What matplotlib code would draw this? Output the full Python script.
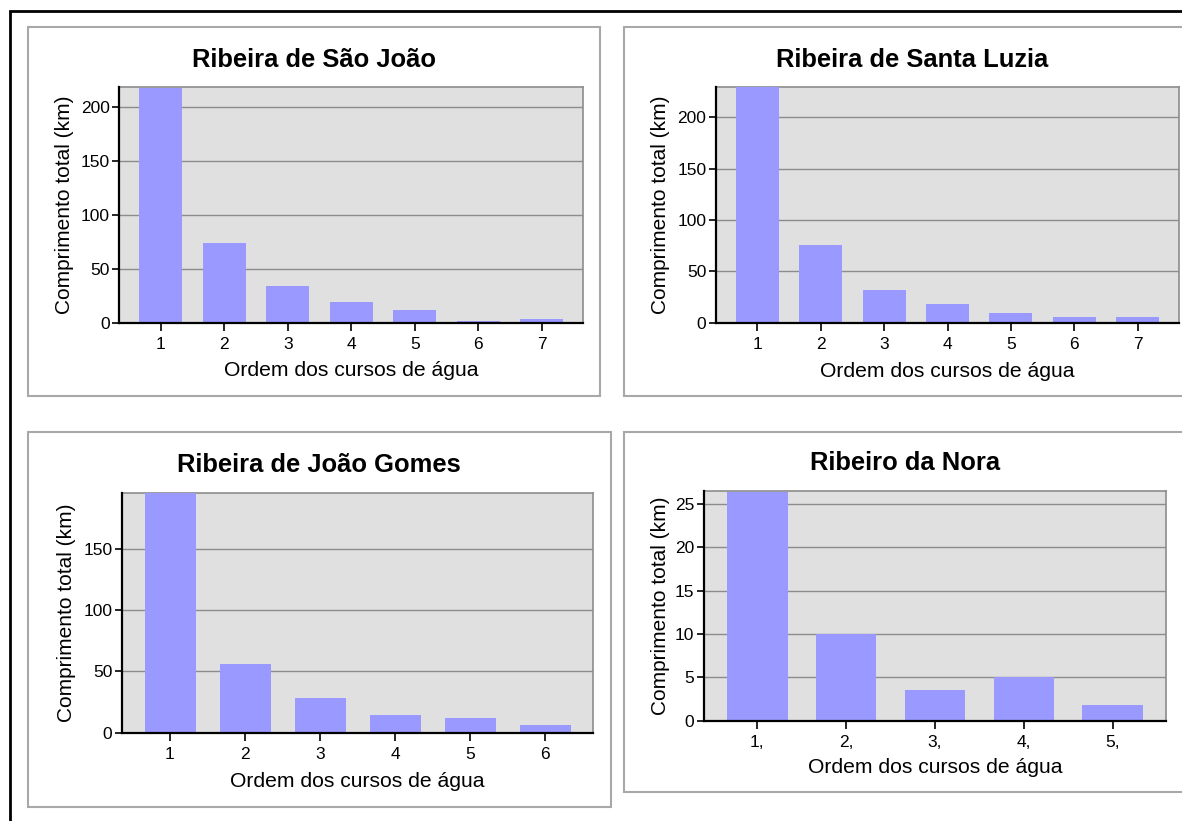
import matplotlib
matplotlib.use("Agg")
import matplotlib.pyplot as plt
from matplotlib.patches import Rectangle

plt.rcParams['font.family'] = ['Liberation Sans', 'DejaVu Sans']

# ---- data ----
titles = ["Ribeira de São João", "Ribeira de Santa Luzia",
          "Ribeira de João Gomes", "Ribeiro da Nora"]
cats_sj = ["1", "2", "3", "4", "5", "6", "7"]
vals_sj = [218, 74, 34, 19, 12, 1.5, 3.5]
cats_sl = ["1", "2", "3", "4", "5", "6", "7"]
vals_sl = [229, 76, 32, 18, 9, 6, 6]
cats_jg = ["1", "2", "3", "4", "5", "6"]
vals_jg = [195, 56, 28.5, 14.6, 12, 6.5]
cats_nr = ["1,", "2,", "3,", "4,", "5,"]
vals_nr = [26.4, 10, 3.5, 5, 1.8]
ymax = [218.5, 229, 195.5, 26.5]
yticks_sets = [[0, 50, 100, 150, 200], [0, 50, 100, 150, 200],
               [0, 50, 100, 150], [0, 5, 10, 15, 20, 25]]
xlabel = "Ordem dos cursos de água"
ylabel = "Comprimento total (km)"

W, H = 1182, 821
fig = plt.figure(figsize=(W / 100, H / 100), dpi=100)


def fx(x):
    return x / W


def fy(y):
    return 1 - y / H


# outer black frame
fig.patches.append(Rectangle((fx(10), fy(900)), fx(1300), fy(11) - fy(900),
                             transform=fig.transFigure, fill=False,
                             edgecolor='black', linewidth=2, zorder=0))

# panel boxes (x0, y0, x1, y1) in pixels
boxes = [(27.5, 27.5, 600, 396), (624, 27.5, 1200, 396.5),
         (27.5, 432.5, 611, 807), (624, 432.5, 1186, 792)]
# plot areas
plots = [(119.5, 87.3, 583, 322.7), (716, 87.3, 1179, 322.7),
         (122, 492.7, 593, 732.7), (704, 490.7, 1166, 720.7)]
title_y = [60, 60, 465, 463]
xlab_y = [370, 371, 781.5, 767]
ylab_x = [65, 661, 67, 660.5]
pads = [0.65, 0.65, 0.64, 0.6]

data = [(cats_sj, vals_sj), (cats_sl, vals_sl), (cats_jg, vals_jg), (cats_nr, vals_nr)]

for i in range(4):
    bx0, by0, bx1, by1 = boxes[i]
    fig.patches.append(Rectangle((fx(bx0), fy(by1)), fx(bx1 - bx0), (by1 - by0) / H,
                                 transform=fig.transFigure, fill=True,
                                 facecolor='white', edgecolor='#A8A8A8',
                                 linewidth=1.5, zorder=1))
    px0, py0, px1, py1 = plots[i]
    ax = fig.add_axes([fx(px0), fy(py1), fx(px1 - px0), (py1 - py0) / H])
    ax.set_zorder(2)
    cats, vals = data[i]
    xs = list(range(1, len(cats) + 1))
    ax.set_facecolor('#E0E0E0')
    ax.bar(xs, vals, width=0.68, color='#9999FF', zorder=3)
    ax.set_xlim(1 - pads[i], len(cats) + pads[i])
    ax.set_ylim(0, ymax[i])
    ax.set_xticks(xs)
    ax.set_xticklabels(cats)
    ax.set_yticks(yticks_sets[i])
    ax.yaxis.grid(True, color='#8C8C8C', linewidth=1.0, zorder=1)
    ax.set_axisbelow(True)
    for s in ['left', 'bottom']:
        ax.spines[s].set_color('black')
        ax.spines[s].set_linewidth(1.6)
        ax.spines[s].set_zorder(5)
    for s in ['top', 'right']:
        ax.spines[s].set_color('#8C8C8C')
        ax.spines[s].set_linewidth(1.2)
    ax.tick_params(axis='x', length=6, width=1.2, pad=4, labelsize=12.5, colors='black')
    ax.tick_params(axis='y', length=5, width=1.2, pad=2, labelsize=12.5, colors='black')
    cx = (bx0 + bx1) / 2
    fig.text(fx(cx), fy(title_y[i]), titles[i], ha='center', va='center',
             fontsize=18.4, fontweight='bold')
    fig.text(fx((px0 + px1) / 2), fy(xlab_y[i]), xlabel, ha='center', va='center',
             fontsize=15.2)
    fig.text(fx(ylab_x[i]), fy((py0 + py1) / 2), ylabel, ha='center', va='center',
             rotation=90, fontsize=15)

fig.savefig("out.png", dpi=100)
